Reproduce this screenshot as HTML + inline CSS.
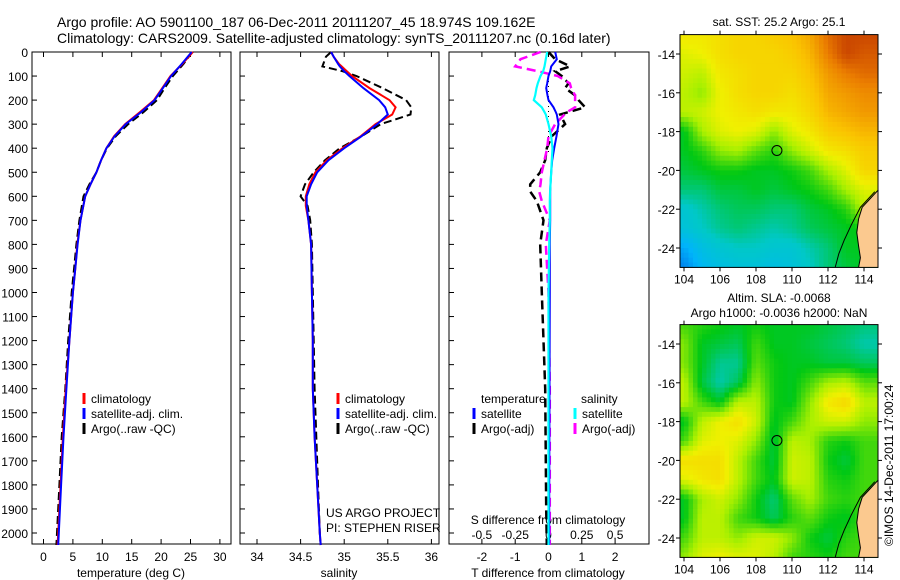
<!DOCTYPE html>
<html><head><meta charset="utf-8"><style>
html,body{margin:0;padding:0;background:#fff;width:900px;height:580px;overflow:hidden}
svg{display:block;font-family:"Liberation Sans",sans-serif}
text{font-size:12px;fill:#000}
</style></head><body>
<svg id="fig" width="900" height="580" viewBox="0 0 900 580" xmlns="http://www.w3.org/2000/svg">
<text x="57" y="27" style="font-size:14px">Argo profile: AO 5901100_187 06-Dec-2011 20111207_45 18.974S 109.162E</text>
<text x="57" y="43" style="font-size:14px">Climatology: CARS2009. Satellite-adjusted climatology: synTS_20111207.nc (0.16d later)</text>
<text x="779" y="26" text-anchor="middle">sat. SST: 25.2  Argo: 25.1</text>
<text x="779" y="302" text-anchor="middle">Altim. SLA: -0.0068</text>
<text x="779" y="317" text-anchor="middle">Argo h1000: -0.0036 h2000: NaN</text>
<text transform="translate(893,546) rotate(-90)">©IMOS 14-Dec-2011 17:00:24</text>
<g id="plots"></g>
</svg>
<script>
// ---------- data ----------
const depthTicks = [0,100,200,300,400,500,600,700,800,900,1000,1100,1200,1300,1400,1500,1600,1700,1800,1900,2000];
const tempTicks = [0,5,10,15,20,25,30];
const salTicks = [34,34.5,35,35.5,36];
const salTickLabels = ["34","34.5","35","35.5","36"];
const tdiffTicks = [-2,-1,0,1,2];
const sdiffTicks = [-0.5,-0.25,0,0.25,0.5];
const sdiffTickLabels = ["-0.5","-0.25","0","0.25","0.5"];

const tDepth = [0,50,100,150,200,250,300,350,400,450,500,550,600,700,800,900,1000,1200,1400,1600,1800,2000,2050];
const tempClim = [25.4,23.6,21.6,20.2,18.8,16.4,13.9,12.0,10.7,9.8,9.0,8.0,7.1,6.3,5.75,5.4,5.0,4.4,3.8,3.3,2.9,2.5,2.4];
const tempSat  = [25.2,23.5,21.7,20.3,18.9,16.6,14.0,12.1,10.7,9.8,9.0,8.0,7.1,6.3,5.8,5.4,5.0,4.4,3.9,3.4,3.0,2.6,2.5];
const tempArgo = [25.3,23.8,22.0,20.6,19.3,17.0,14.4,12.3,10.8,9.8,9.0,7.8,6.8,6.1,5.6,5.2,4.8,4.2,3.7,3.1,2.7,2.3,2.2];

const sDepth = [0,20,50,60,80,100,150,200,230,260,300,350,400,450,500,550,600,640,700,800,1000,1200,1400,1600,1800,2000,2050];
const salClim = [34.85,34.88,34.94,34.97,35.03,35.09,35.29,35.52,35.59,35.55,35.36,35.19,34.98,34.80,34.67,34.60,34.56,34.56,34.59,34.62,34.63,34.64,34.64,34.66,34.69,34.72,34.73];
const salSat  = [34.85,34.88,34.93,34.95,35.0,35.06,35.22,35.40,35.47,35.5,35.38,35.2,35.0,34.82,34.69,34.62,34.57,34.57,34.59,34.62,34.63,34.64,34.64,34.66,34.69,34.72,34.73];
const salArgo = [34.85,34.79,34.76,34.75,34.98,35.14,35.44,35.71,35.77,35.76,35.42,35.20,34.95,34.78,34.65,34.55,34.50,34.58,34.61,34.63,34.64,34.65,34.66,34.68,34.70,34.72,34.73];

const dDepth = [0,30,60,80,100,130,150,180,200,230,250,260,300,350,400,450,500,550,580,620,700,800,1000,1400,1900,2050];
const tdiffSat  = [0.2,0.25,0.08,0.05,0.0,-0.04,-0.07,-0.03,0.0,0.15,0.22,0.25,0.3,0.24,0.17,0.11,0.08,0.06,0.05,0.05,0.05,0.04,0.04,0.03,0.02,0.02];
const tdiffArgo = [0.0,0.2,0.65,0.2,0.4,0.6,0.5,0.8,0.9,1.1,0.6,0.35,0.5,0.1,-0.05,-0.1,-0.25,-0.55,-0.55,-0.35,-0.15,-0.25,-0.2,-0.1,-0.07,-0.05];
const sdiffSat  = [-0.01,-0.02,-0.03,-0.04,-0.06,-0.08,-0.09,-0.1,-0.11,-0.05,-0.03,-0.02,0.0,0.02,0.03,0.025,0.02,0.015,0.012,0.01,0.01,0.005,0.0,0.0,0.0,0.0];
const sdiffArgo = [-0.06,-0.21,-0.25,-0.08,0.07,0.16,0.17,0.2,0.2,0.2,0.14,0.12,0.05,0.0,-0.01,-0.03,-0.05,-0.06,-0.07,-0.05,0.01,-0.02,0.0,0.01,0.01,0.01];

const mapLons = [104,105,106,107,108,109,110,111,112,113,114];
const mapLats = [-13,-14,-15,-16,-17,-18,-19,-20,-21,-22,-23,-24,-25];
const sstGrid = [
[.68,.68,.7,.72,.72,.74,.76,.8,.88,.92,.92],
[.64,.66,.7,.72,.72,.72,.74,.78,.86,.92,.9],
[.62,.6,.68,.7,.72,.72,.72,.76,.82,.86,.88],
[.6,.56,.66,.7,.72,.72,.7,.74,.8,.82,.84],
[.6,.62,.66,.68,.7,.68,.68,.72,.78,.8,.82],
[.44,.58,.64,.66,.64,.56,.64,.68,.74,.76,.78],
[.44,.48,.56,.58,.52,.48,.56,.62,.68,.7,.74],
[.42,.44,.46,.46,.44,.44,.46,.5,.58,.64,.72],
[.38,.38,.42,.42,.44,.42,.44,.46,.5,.58,.64],
[.3,.34,.38,.4,.4,.38,.38,.42,.44,.48,.6],
[.28,.32,.36,.38,.36,.34,.36,.4,.42,.44,.46],
[.18,.26,.3,.32,.32,.3,.3,.34,.38,.44,.44],
[.12,.22,.26,.28,.28,.26,.28,.32,.38,.42,.44]];
const slaGrid = [
[.5,.48,.46,.44,.46,.44,.44,.44,.42,.4,.38],
[.55,.44,.42,.4,.5,.44,.44,.42,.4,.38,.34],
[.55,.44,.36,.36,.52,.46,.44,.44,.42,.42,.4],
[.6,.42,.34,.4,.56,.46,.44,.5,.58,.6,.52],
[.6,.5,.44,.6,.6,.46,.44,.56,.68,.72,.6],
[.44,.6,.66,.7,.62,.44,.5,.58,.62,.62,.56],
[.5,.64,.66,.64,.56,.42,.6,.58,.48,.46,.5],
[.7,.7,.7,.6,.5,.42,.62,.6,.46,.42,.5],
[.64,.68,.7,.6,.5,.44,.62,.6,.48,.46,.5],
[.44,.58,.62,.56,.46,.38,.52,.58,.5,.48,.5],
[.44,.6,.6,.5,.46,.4,.48,.52,.46,.44,.5],
[.5,.6,.6,.56,.62,.62,.56,.46,.42,.48,.5],
[.56,.64,.66,.64,.64,.6,.5,.48,.46,.5,.5]];
const argoLon = 109.162, argoLat = -18.974;
const mapLonTicks = [104,106,108,110,112,114];
const mapLatTicks = [-14,-16,-18,-20,-22,-24];
const coastLon = [114.8,114.3,113.9,113.7,113.6,113.7,113.8,113.7];
const coastLat = [-21.0,-21.5,-21.9,-22.5,-23.2,-23.9,-24.5,-25.0];
const reefLon = [114.6,113.8,113.3,112.9,112.6,112.4];
const reefLat = [-21.1,-21.9,-22.8,-23.6,-24.3,-25.0];

// ---------- helpers ----------
const NS="http://www.w3.org/2000/svg";
const root=document.getElementById('plots');
function mk(tag,attrs,parent){const e=document.createElementNS(NS,tag);for(const k in attrs)e.setAttribute(k,attrs[k]);(parent||root).appendChild(e);return e;}
const TOP=52, BOT=544;
const yD = d => 52 + d*0.2405;
function panel(x0,x1,name){
  const r=mk('rect',{x:x0,y:TOP,width:x1-x0,height:BOT-TOP,fill:'none',stroke:'#000','stroke-width':1});
  
  
  depthTicks.forEach(d=>{
    const t=mk('line',{x1:x0,x2:x0+5,y1:yD(d),y2:yD(d),stroke:'#000'});
    
    
  });
}
function xticks(vals,labels,sx,name,ly){
  vals.forEach((v,i)=>{
    const x=sx(v);
    const a=mk('line',{x1:x,x2:x,y1:BOT,y2:BOT-5,stroke:'#000'});
    
    
    const b=mk('line',{x1:x,x2:x,y1:TOP,y2:TOP+5,stroke:'#000'});
    
    
    if(ly){const t=mk('text',{x:x,y:ly,'text-anchor':'middle'});t.textContent=labels[i];
    
    }
  });
}
function line(xs,ds,sx,color,w,dash,name){
  const pts=xs.map((v,i)=>sx(v).toFixed(1)+','+yD(ds[i]).toFixed(1)).join(' ');
  const p=mk('polyline',{points:pts,fill:'none',stroke:color,'stroke-width':w,'stroke-dasharray':dash||'none'});
  
  
}
function label(x,y,s,name,anchor){const t=mk('text',{x:x,y:y,'text-anchor':anchor||'start'});t.textContent=s;
  
  return t;}
function legend(x,y,color,s,name){
  const l=mk('line',{x1:x,x2:x,y1:y-10,y2:y+1,stroke:color,'stroke-width':3});
  
  
  label(x+7,y,s,name+'-label');
}

// ---------- panel 1: temperature ----------
const sxT = t => 43.5 + t*5.88;
panel(32,231,'temperature-panel');
depthTicks.forEach(d=>label(28,yD(d)+5,String(d),'depth-tick-label','end'));
xticks(tempTicks,tempTicks.map(String),sxT,'temperature-axis',561);
label(131,577,'temperature (deg C)','temperature-axis-title','middle');
line(tempArgo,tDepth,sxT,'#000',2,'8,4','temperature-argo-line');
line(tempClim,tDepth,sxT,'#f00',2,null,'temperature-climatology-line');
line(tempSat,tDepth,sxT,'#00f',2,null,'temperature-satellite-line');
legend(84,403,'#f00','climatology','temperature-legend-climatology');
legend(84,418,'#00f','satellite-adj. clim.','temperature-legend-satellite');
legend(84,433,'#000','Argo(..raw -QC)','temperature-legend-argo');

// ---------- panel 2: salinity ----------
const sxS = s => 257 + (s-34)*87.2;
panel(240,439,'salinity-panel');
xticks(salTicks,salTickLabels,sxS,'salinity-axis',561);
label(339,577,'salinity','salinity-axis-title','middle');
line(salArgo,sDepth,sxS,'#000',2,'8,4','salinity-argo-line');
line(salClim,sDepth,sxS,'#f00',2,null,'salinity-climatology-line');
line(salSat,sDepth,sxS,'#00f',2,null,'salinity-satellite-line');
legend(338,403,'#f00','climatology','salinity-legend-climatology');
legend(338,418,'#00f','satellite-adj. clim.','salinity-legend-satellite');
legend(338,433,'#000','Argo(..raw -QC)','salinity-legend-argo');
label(326,517,'US ARGO PROJECT','project-credit');
label(326,532,'PI: STEPHEN RISER','pi-credit');

// ---------- panel 3: differences ----------
const sxTD = v => 548.5 + v*33.3;
const sxSD = v => 548.5 + v*133.2;
panel(449,649,'difference-panel');
xticks(tdiffTicks,tdiffTicks.map(String),sxTD,'tdiff-axis',561);
sdiffTicks.forEach((v,i)=>label(sxSD(v),539,sdiffTickLabels[i],'sdiff-tick-label','middle'));
label(548,524,'S difference from climatology','sdiff-axis-title','middle');
label(548,577,'T difference from climatology','tdiff-axis-title','middle');
{const z=mk('line',{x1:548.5,x2:548.5,y1:yD(100),y2:yD(420),stroke:'#000','stroke-dasharray':'1,4'});

}
line(tdiffArgo,dDepth,sxTD,'#000',2.5,'9,5','tdiff-argo-line');
line(sdiffArgo,dDepth,sxSD,'#f0f',2.5,'9,5','sdiff-argo-line');
line(tdiffSat,dDepth,sxTD,'#00f',2,null,'tdiff-satellite-line');
line(sdiffSat,dDepth,sxSD,'#0ff',2.2,null,'sdiff-satellite-line');
label(481,403,'temperature','diff-legend-temperature-header');
label(581,403,'salinity','diff-legend-salinity-header');
legend(474,418,'#00f','satellite','diff-legend-tsat');
legend(474,433,'#000','Argo(-adj)','diff-legend-targo');
legend(575,418,'#0ff','satellite','diff-legend-ssat');
legend(575,433,'#f0f','Argo(-adj)','diff-legend-sargo');

// ---------- maps ----------
function cmap(v){
  const stops=[[0,[0,60,220]],[0.2,[0,180,250]],[0.32,[0,200,200]],[0.45,[0,200,20]],[0.58,[170,240,0]],[0.66,[240,240,0]],[0.76,[250,195,0]],[0.86,[235,125,0]],[1,[160,0,0]]];
  v=Math.max(0,Math.min(1,v));
  for(let i=1;i<stops.length;i++){if(v<=stops[i][0]){const a=stops[i-1],b=stops[i],f=(v-a[0])/(b[0]-a[0]);
    return 'rgb('+a[1].map((c,k)=>Math.round(c+(b[1][k]-c)*f)).join(',')+')';}}
  return 'rgb(160,0,0)';
}
function sample(g,lon,lat){
  let fx=(lon-mapLons[0]), fy=(mapLats[0]-lat);
  fx=Math.max(0,Math.min(mapLons.length-1.001,fx)); fy=Math.max(0,Math.min(mapLats.length-1.001,fy));
  const i=Math.floor(fx),j=Math.floor(fy),u=fx-i,w=fy-j;
  return g[j][i]*(1-u)*(1-w)+g[j][i+1]*u*(1-w)+g[j+1][i]*(1-u)*w+g[j+1][i+1]*u*w;
}
function drawMap(grid,latTop,name){
  const L=680,R=878, sx=lon=>684+(lon-104)*18, sy=lat=>latTop+(-14-lat)*19.4;
  const y0=sy(-13), y1=sy(-25);
  const g=mk('g',{});
  
  
  const step=0.25;
  for(let lat=-13;lat>-25;lat-=step){
    for(let lon=103.75;lon<114.8;lon+=step){
      const x=Math.max(L,sx(lon)), xe=Math.min(R,sx(lon+step));
      if(xe<=x) continue;
      mk('rect',{x:x.toFixed(1),y:sy(lat).toFixed(1),width:(xe-x+0.5).toFixed(1),height:(step*19.4+0.5).toFixed(1),fill:cmap(sample(grid,lon+step/2,lat-step/2))},g);
    }
  }
  const reef=mk('polyline',{points:reefLon.map((lo,i)=>sx(lo).toFixed(1)+','+sy(reefLat[i]).toFixed(1)).join(' '),fill:'none',stroke:'#000','stroke-width':1});
  
  
  let pts=coastLon.map((lo,i)=>sx(lo).toFixed(1)+','+sy(coastLat[i]).toFixed(1));
  const land=mk('polygon',{points:pts.join(' ')+' '+R+','+y1+' '+R+','+sy(-21),fill:'#fbc98f',stroke:'none'});
  
  
  const coast=mk('polyline',{points:pts.join(' '),fill:'none',stroke:'#000','stroke-width':1});
  
  
  const fr=mk('rect',{x:L,y:y0,width:R-L,height:y1-y0,fill:'none',stroke:'#000'});
  
  
  const ci=mk('circle',{cx:sx(argoLon),cy:sy(argoLat),r:5,fill:'none',stroke:'#000','stroke-width':1});
  
  
  mapLonTicks.forEach(v=>{
    const t=mk('line',{x1:sx(v),x2:sx(v),y1:y1,y2:y1+4,stroke:'#000'});
    
    
    const t2=mk('line',{x1:sx(v),x2:sx(v),y1:y0,y2:y0-4,stroke:'#000'});
    
    
    label(sx(v),y1+16,String(v),name+'-lon-label','middle');
  });
  mapLatTicks.forEach(v=>{
    const t=mk('line',{x1:L,x2:L-4,y1:sy(v),y2:sy(v),stroke:'#000'});
    
    
    const t2=mk('line',{x1:R,x2:R+4,y1:sy(v),y2:sy(v),stroke:'#000'});
    
    
    label(L-5,sy(v)+5,String(v),name+'-lat-label','end');
  });
}
drawMap(sstGrid,54,'sst-map');
drawMap(slaGrid,344,'sla-map');
</script>
</body></html>
